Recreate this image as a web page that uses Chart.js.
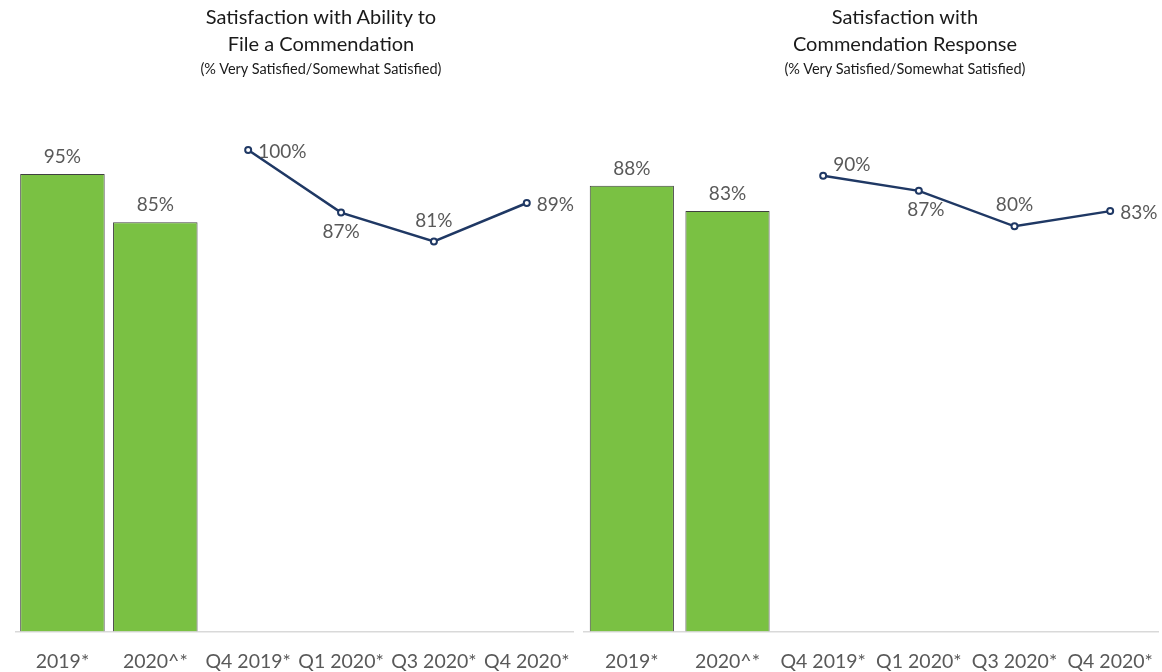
<!DOCTYPE html>
<html>
<head>
<meta charset="utf-8">
<script src="https://cdn.jsdelivr.net/npm/chart.js@4"></script>
<style>
  body { margin: 0; background: #fff; font-family: Lato, sans-serif; }
  #wrap { position: relative; width: 1162px; height: 672px; overflow: hidden; }
  .panel { position: absolute; top: 0; height: 686px; }
  .title { position: absolute; text-align: center; color: #1a1a1a; font-size: 20px; line-height: 27px; }
  .title small { display: block; font-size: 14.5px; line-height: 24px; }
</style>
</head>
<body>
<div id="wrap">
  <div class="panel" style="left:0;width:580px"><canvas id="grafica1"></canvas></div>
  <div class="panel" style="left:578px;width:586px"><canvas id="grafica2"></canvas></div>
  <div class="title" style="left:171px;width:300px;top:3px">Satisfaction with Ability to<br>File a Commendation<small>(% Very Satisfied/Somewhat Satisfied)</small></div>
  <div class="title" style="left:755px;width:300px;top:3px">Satisfaction with<br>Commendation Response<small>(% Very Satisfied/Somewhat Satisfied)</small></div>
</div>
<script>
//DATOS
const categorias = ["2019*", "2020^*", "Q4 2019*", "Q1 2020*", "Q3 2020*", "Q4 2020*"];

const barrasAbility = [95, 85, null, null, null, null];
const lineaAbility = [null, null, 100, 87, 81, 89];

const barrasResponse = [88, 83, null, null, null, null];
const lineaResponse = [null, null, 90, 87, 80, 83];

// donde va cada etiqueta de la linea
const posAbility = [null, null, "right", "below", "above", "right"];
const posResponse = [null, null, "rightUp", "below", "above", "right"];

const VERDE = "#7AC143";
const AZUL = "#1F3864";
const GRIS = "#595959";

//ETIQUETAS
const etiquetas = {
  id: "etiquetas",
  afterDatasetsDraw(chart) {
    const ctx = chart.ctx;
    ctx.save();
    ctx.font = "19px Lato";
    ctx.fillStyle = GRIS;
    chart.data.datasets.forEach((ds, i) => {
      const meta = chart.getDatasetMeta(i);
      meta.data.forEach((el, j) => {
        const v = ds.data[j];
        if (v == null) return;
        const txt = v + "%";
        let pos = ds.posiciones ? ds.posiciones[j] : "above";
        let x = el.x, y = el.y;
        ctx.textBaseline = "middle";
        if (pos === "right") { ctx.textAlign = "left"; x += 10; y += 2; }
        else if (pos === "rightUp") { ctx.textAlign = "left"; x += 10; y -= 11; }
        else if (pos === "below") { ctx.textAlign = "center"; y += 19; if (ds.corrX) x += ds.corrX[j] || 0; }
        else { ctx.textAlign = "center"; y -= (ds.type === "line" ? 21 : 17); }
        ctx.fillText(txt, x, y);
      });
    });
    ctx.restore();
  }
};

function crearGrafica(id, barras, linea, posiciones, padTop, padLeft, anchoBarra, corrX) {
  const micanvas = document.getElementById(id).getContext("2d");
  return new Chart(micanvas, {
    data: {
      labels: categorias,
      datasets: [
        {
          type: "line",
          data: linea,
          posiciones: posiciones,
          corrX: corrX,
          borderColor: AZUL,
          borderWidth: 2.5,
          pointRadius: 3,
          pointBorderWidth: 2,
          pointBackgroundColor: "#fff",
          pointBorderColor: AZUL,
          clip: false
        },
        {
          type: "bar",
          data: barras,
          backgroundColor: VERDE,
          borderColor: "#404040",
          borderWidth: 1,
          categoryPercentage: 1,
          barPercentage: anchoBarra
        }
      ]
    },
    options: {
      responsive: true,
      maintainAspectRatio: false,
      animation: false,
      layout: { padding: { top: padTop, left: padLeft, right: 0, bottom: 3 } },
      plugins: { legend: { display: false }, tooltip: { enabled: false } },
      scales: {
        x: {
          grid: { display: false },
          border: { display: true, color: "#D9D9D9", width: 1.5 },
          ticks: { color: GRIS, font: { family: "Lato", size: 19.5 }, padding: 10, maxRotation: 0, autoSkip: false }
        },
        y: { display: false, min: 0, max: 100 }
      }
    },
    plugins: [etiquetas]
  });
}

crearGrafica("grafica1", barrasAbility, lineaAbility, posAbility, 150, 16, 0.91, null);
crearGrafica("grafica2", barrasResponse, lineaResponse, posResponse, 125, 0, 0.88, [0, 0, 0, 7, 0, 0]);
</script>
</body>
</html>
